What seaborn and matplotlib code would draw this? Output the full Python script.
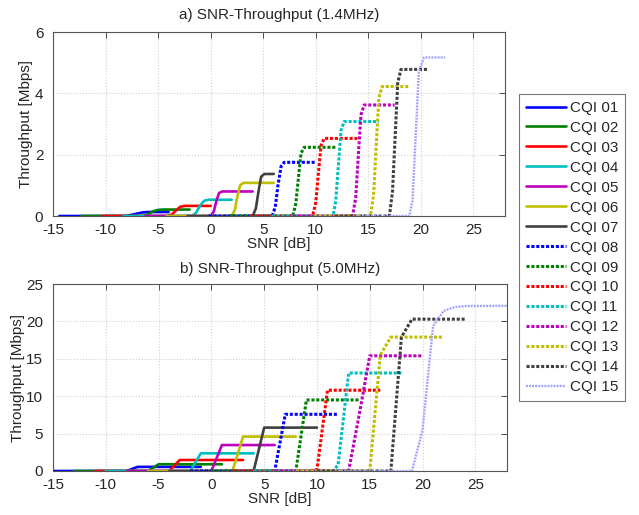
import matplotlib
matplotlib.use("Agg")
import matplotlib.pyplot as plt
import seaborn as sns
import numpy as np

sns.set_style("white")
plt.rcParams['font.family'] = ['Liberation Sans', 'DejaVu Sans']
plt.rcParams['font.size'] = 11
plt.rcParams['axes.unicode_minus'] = False

labels = [f"CQI {i:02d}" for i in range(1, 16)]
colors = ["#0000ff", "#008000", "#ff0000", "#00bfbf", "#bf00bf", "#bfbf00", "#404040",
          "#0000ff", "#008000", "#ff0000", "#00bfbf", "#bf00bf", "#bfbf00", "#404040", "#a0a0ff"]

# ---- a) 1.4 MHz: SNR points [dB] and throughput [Mbps] per CQI ----
snr_a_01 = [-14.4, -8.5, -8.0, -7.5, -7.0, -6.5, -6.0, -4.0]
thr_a_01 = [0, 0, 0.01, 0.04, 0.08, 0.115, 0.13, 0.13]
snr_a_02 = [-12.3, -6.5, -6.0, -5.5, -5.0, -4.5, -2.0]
thr_a_02 = [0, 0, 0.05, 0.15, 0.20, 0.21, 0.21]
snr_a_03 = [-10.3, -4.2, -3.7, -3.3, -2.9, -2.5, 0.0]
thr_a_03 = [0, 0, 0.05, 0.18, 0.30, 0.33, 0.33]
snr_a_04 = [-8.3, -1.8, -1.4, -1.0, -0.6, -0.2, 2.0]
thr_a_04 = [0, 0, 0.10, 0.35, 0.50, 0.53, 0.53]
snr_a_05 = [-6.2, 0.0, 0.3, 0.55, 0.8, 1.1, 4.0]
thr_a_05 = [0, 0, 0.15, 0.50, 0.75, 0.80, 0.80]
snr_a_06 = [-4.2, 2.0, 2.3, 2.55, 2.8, 3.1, 6.0]
thr_a_06 = [0, 0, 0.20, 0.65, 1.00, 1.08, 1.08]
snr_a_07 = [-2.2, 4.0, 4.3, 4.55, 4.8, 5.1, 6.0]
thr_a_07 = [0, 0, 0.25, 0.80, 1.28, 1.37, 1.37]
snr_a_08 = [-0.2, 5.85, 6.15, 6.4, 6.7, 7.0, 10.0]
thr_a_08 = [0, 0, 0.30, 1.00, 1.62, 1.75, 1.75]
snr_a_09 = [1.8, 7.8, 8.1, 8.35, 8.6, 8.9, 12.0]
thr_a_09 = [0, 0, 0.40, 1.25, 2.05, 2.24, 2.24]
snr_a_10 = [3.8, 9.7, 10.0, 10.25, 10.5, 10.8, 14.1]
thr_a_10 = [0, 0, 0.45, 1.40, 2.30, 2.53, 2.53]
snr_a_11 = [5.8, 11.65, 11.9, 12.15, 12.4, 12.7, 16.0]
thr_a_11 = [0, 0, 0.50, 1.65, 2.80, 3.08, 3.08]
snr_a_12 = [7.8, 13.5, 13.8, 14.05, 14.3, 14.6, 17.5]
thr_a_12 = [0, 0, 0.60, 2.00, 3.30, 3.62, 3.62]
snr_a_13 = [9.8, 15.2, 15.5, 15.75, 16.0, 16.3, 18.9]
thr_a_13 = [0, 0, 0.70, 2.30, 3.85, 4.22, 4.22]
snr_a_14 = [11.8, 17.0, 17.3, 17.55, 17.8, 18.1, 20.7]
thr_a_14 = [0, 0, 0.80, 2.60, 4.35, 4.78, 4.78]
snr_a_15 = [13.8, 18.9, 19.2, 19.5, 19.8, 20.3, 22.3]
thr_a_15 = [0, 0, 0.50, 2.60, 4.70, 5.17, 5.17]

# ---- b) 5.0 MHz ----
snr_b_01 = [-15, -8, -7, -1]
thr_b_01 = [0, 0, 0.55, 0.55]
snr_b_02 = [-13, -6, -5, 1]
thr_b_02 = [0, 0, 0.9, 0.9]
snr_b_03 = [-11, -4, -3, 3]
thr_b_03 = [0, 0, 1.47, 1.47]
snr_b_04 = [-10, -2, -1, 4]
thr_b_04 = [0, 0, 2.36, 2.36]
snr_b_05 = [-8, 0, 1, 6]
thr_b_05 = [0, 0, 3.47, 3.47]
snr_b_06 = [-6, 2, 3, 8]
thr_b_06 = [0, 0, 4.6, 4.6]
snr_b_07 = [-4, 4, 5, 10]
thr_b_07 = [0, 0, 5.8, 5.8]
snr_b_08 = [-2, 6, 7, 12]
thr_b_08 = [0, 0, 7.58, 7.58]
snr_b_09 = [0, 8, 9, 14]
thr_b_09 = [0, 0, 9.5, 9.5]
snr_b_10 = [2, 9, 10, 11, 16]
thr_b_10 = [0, 0, 0.15, 10.8, 10.8]
snr_b_11 = [4, 11.5, 12, 13, 18]
thr_b_11 = [0, 0, 0.8, 13.1, 13.1]
snr_b_12 = [6, 13, 14, 15, 20]
thr_b_12 = [0, 0, 7.5, 15.4, 15.4]
snr_b_13 = [8, 15, 16, 17, 22]
thr_b_13 = [0, 0, 15.5, 17.9, 17.9]
snr_b_14 = [10, 17, 18, 19, 24]
thr_b_14 = [0, 0, 17.9, 20.3, 20.3]
snr_b_15 = [12, 19, 20, 21, 22, 23, 24, 29]
thr_b_15 = [0, 0, 5.5, 19.4, 21.4, 21.9, 22.05, 22.1]

g = globals()
series_a = [(g[f"snr_a_{i:02d}"], g[f"thr_a_{i:02d}"]) for i in range(1, 16)]
series_b = [(g[f"snr_b_{i:02d}"], g[f"thr_b_{i:02d}"]) for i in range(1, 16)]

fig = plt.figure(figsize=(6.39, 5.15), dpi=100)
W, H = 639, 515
ax1 = fig.add_axes([53 / W, 1 - 216 / H, 452 / W, 184 / H])
ax2 = fig.add_axes([53 / W, 1 - 471 / H, 454 / W, 187 / H])


def style(i):
    if i < 7:
        return dict(linestyle="-", lw=1.9)
    if i < 14:
        return dict(linestyle=(0, (1.0, 0.6)), lw=2.2)
    return dict(linestyle=(0, (0.8, 0.5)), lw=1.7)


for ax, series in ((ax1, series_a), (ax2, series_b)):
    for i, (x, y) in enumerate(series):
        sns.lineplot(x=x, y=y, ax=ax, color=colors[i], sort=False, estimator=None,
                     legend=False, **style(i))
    ax.set_xlim(-15, 28)
    ax.set_xticks(np.arange(-15, 26, 5))
    ax.grid(True, linestyle=":", color="#d0d0d0", lw=0.8)
    ax.tick_params(direction="in", top=True, right=True, length=4, width=0.6,
                   color="#333333", labelsize=11)
    ax.tick_params(axis="x", pad=5)
    ax.tick_params(axis="y", pad=7)
    for sp in ax.spines.values():
        sp.set_color("#555555")
        sp.set_linewidth(0.8)
    ax.set_xlabel("SNR [dB]", fontsize=11, labelpad=0)
    ax.set_ylabel("Throughput [Mbps]", fontsize=11, labelpad=1)

ax1.set_ylim(0, 6)
ax1.set_yticks([0, 2, 4, 6])
ax1.set_title("a) SNR-Throughput (1.4MHz)", fontsize=11, pad=9)
ax2.set_ylim(0, 25)
ax2.set_yticks([0, 5, 10, 15, 20, 25])
ax2.set_title("b) SNR-Throughput (5.0MHz)", fontsize=11, pad=8)

handles = ax1.lines[:15]
leg = fig.legend(handles, labels, loc="upper left",
                 bbox_to_anchor=(519 / W, 1 - 94 / H), borderaxespad=0,
                 frameon=True, fancybox=False, edgecolor="#555555",
                 fontsize=11, handlelength=2.6, handletextpad=0.3,
                 labelspacing=0.39, borderpad=0.45)
leg.get_frame().set_linewidth(0.8)

fig.savefig("out.png", dpi=100)
